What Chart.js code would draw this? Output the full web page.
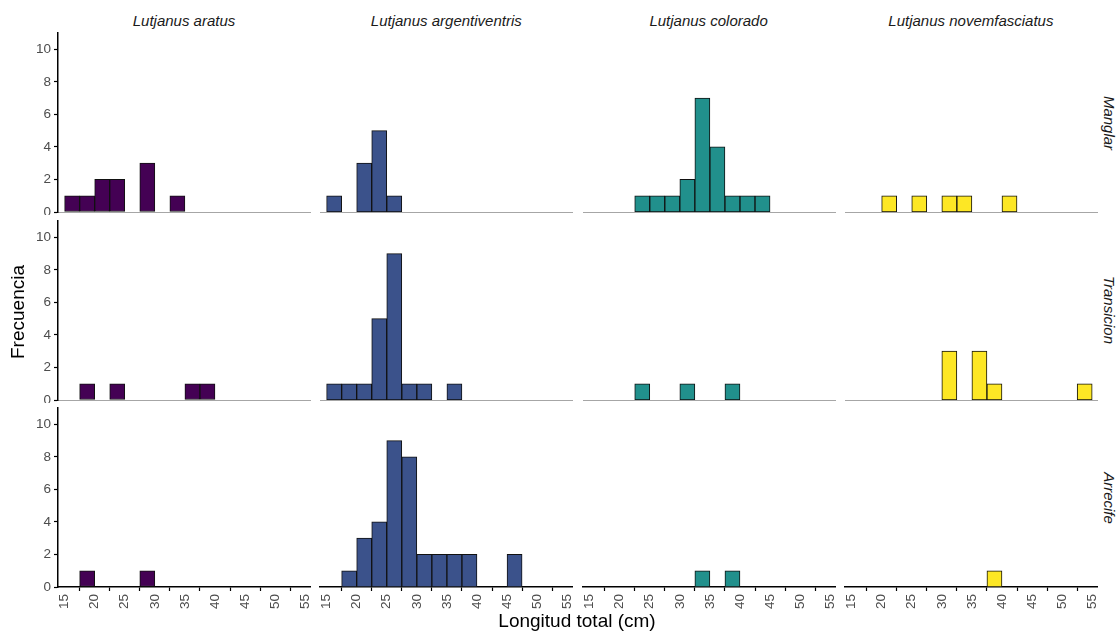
<!DOCTYPE html>
<html>
<head>
<meta charset="utf-8">
<script src="https://cdn.jsdelivr.net/npm/chart.js@4.4.1/dist/chart.umd.min.js"></script>
<style>
  body { margin: 0; background: #fff; }
  #page { position: relative; width: 1118px; height: 632px; overflow: hidden; font-family: "Liberation Sans", Arial, sans-serif; }
  canvas { position: absolute; }
  .lbl { position: absolute; white-space: nowrap; color: #1a1a1a; transform: translate(-50%, -50%); }
  .strip { font-style: italic; font-size: 15px; }
  .title { font-size: 19px; color: #000; }
</style>
</head>
<body>
<div id="page"></div>
<script>
const species = ['Lutjanus aratus', 'Lutjanus argentiventris', 'Lutjanus colorado', 'Lutjanus novemfasciatus'];
const habitats = ['Manglar', 'Transicion', 'Arrecife'];
const speciesColors = ['#440154', '#3B528B', '#21908C', '#FDE725'];

// histogram bins, 2.5 cm wide
const binStarts = [15, 17.5, 20, 22.5, 25, 27.5, 30, 32.5, 35, 37.5, 40, 42.5, 45, 47.5, 50, 52.5];
const binWidth = 2.5;
const xTicks = [15, 20, 25, 30, 35, 40, 45, 50, 55];
const yTicks = [0, 2, 4, 6, 8, 10];

// counts per bin, one row per species
const manglar = [
  [1, 1, 2, 2, 0, 3, 0, 1, 0, 0, 0, 0, 0, 0, 0, 0],
  [1, 0, 3, 5, 1, 0, 0, 0, 0, 0, 0, 0, 0, 0, 0, 0],
  [0, 0, 0, 1, 1, 1, 2, 7, 4, 1, 1, 1, 0, 0, 0, 0],
  [0, 0, 1, 0, 1, 0, 1, 1, 0, 0, 1, 0, 0, 0, 0, 0]
];
const transicion = [
  [0, 1, 0, 1, 0, 0, 0, 0, 1, 1, 0, 0, 0, 0, 0, 0],
  [1, 1, 1, 5, 9, 1, 1, 0, 1, 0, 0, 0, 0, 0, 0, 0],
  [0, 0, 0, 1, 0, 0, 1, 0, 0, 1, 0, 0, 0, 0, 0, 0],
  [0, 0, 0, 0, 0, 0, 3, 0, 3, 1, 0, 0, 0, 0, 0, 1]
];
const arrecife = [
  [0, 1, 0, 0, 0, 1, 0, 0, 0, 0, 0, 0, 0, 0, 0, 0],
  [0, 1, 3, 4, 9, 8, 2, 2, 2, 2, 0, 0, 2, 0, 0, 0],
  [0, 0, 0, 0, 0, 0, 0, 1, 0, 1, 0, 0, 0, 0, 0, 0],
  [0, 0, 0, 0, 0, 0, 0, 0, 0, 1, 0, 0, 0, 0, 0, 0]
];
const counts = [manglar, transicion, arrecife];

const page = document.getElementById('page');

// panel geometry
const panelLeft = 58, panelStepX = 262.3, panelW = 252;
const panelTop = 33, panelStepY = 187.5, panelH = 179;
const yAxisW = 28, xAxisH = 32;
const tickFont = { family: '"Liberation Sans", Arial, sans-serif', size: 13.5 };

function addLabel(text, cls, x, y, rotate) {
  const d = document.createElement('div');
  d.className = 'lbl ' + cls;
  d.textContent = text;
  d.style.left = x + 'px';
  d.style.top = y + 'px';
  if (rotate) d.style.transform = 'translate(-50%, -50%) rotate(' + rotate + 'deg)';
  page.appendChild(d);
}

habitats.forEach((hab, r) => {
  species.forEach((sp, c) => {
    const isLeft = c === 0;
    const isBottom = r === habitats.length - 1;
    const left = Math.round(panelLeft + c * panelStepX) - (isLeft ? yAxisW + 2 : 2);
    const top = Math.round(panelTop + r * panelStepY) - 2;
    const w = panelW + (isLeft ? yAxisW + 2 : 2) + 2;
    const h = panelH + 2 + (isBottom ? xAxisH + 2 : 3);

    const cv = document.createElement('canvas');
    cv.width = w; cv.height = h;
    cv.style.left = left + 'px';
    cv.style.top = top + 'px';
    cv.style.width = w + 'px';
    cv.style.height = h + 'px';
    page.appendChild(cv);

    const values = counts[r][c];
    new Chart(cv, {
      type: 'bar',
      data: {
        datasets: [{
          data: binStarts.map((b, i) => ({ x: b + binWidth / 2, y: values[i] })),
          backgroundColor: ctx => (ctx.raw && ctx.raw.y > 0 ? speciesColors[c] : 'rgba(0,0,0,0)'),
          borderColor: '#111',
          borderWidth: ctx => (ctx.raw && ctx.raw.y > 0 ? 1 : 0),
          borderSkipped: false,
          barPercentage: 1,
          categoryPercentage: 1
        }]
      },
      options: {
        responsive: false,
        animation: false,
        devicePixelRatio: 1,
        layout: { padding: { left: 2, top: 2, right: 2, bottom: isBottom ? 2 : 3 } },
        plugins: { legend: { display: false }, tooltip: { enabled: false } },
        scales: {
          x: {
            type: 'linear',
            min: 13.9,
            max: 55.8,
            offset: false,
            afterBuildTicks: s => { s.ticks = xTicks.map(v => ({ value: v })); },
            afterFit: s => {
              s.height = isBottom ? xAxisH : 0;
              s.paddingLeft = 0; s.paddingRight = 0;
            },
            grid: {
              display: isBottom,
              drawOnChartArea: false,
              drawTicks: true,
              tickLength: 4,
              color: '#000',
              tickWidth: 1.2
            },
            border: { display: true, color: isBottom ? '#000' : '#a6a6a6', width: isBottom ? 1.5 : 1 },
            ticks: {
              display: isBottom,
              autoSkip: false,
              minRotation: 90,
              maxRotation: 90,
              padding: 3,
              color: '#4d4d4d',
              font: tickFont
            }
          },
          y: {
            display: isLeft,
            min: 0,
            max: 11,
            afterBuildTicks: s => { s.ticks = yTicks.map(v => ({ value: v })); },
            afterFit: s => {
              s.width = isLeft ? yAxisW : 0;
              s.paddingTop = 0; s.paddingBottom = 0;
            },
            grid: {
              display: true,
              drawOnChartArea: false,
              drawTicks: true,
              tickLength: 4,
              color: '#000',
              tickWidth: 1.2
            },
            border: { display: true, color: '#000', width: 1.5 },
            ticks: {
              padding: 3,
              color: '#4d4d4d',
              font: tickFont
            }
          }
        }
      }
    });
  });
});

// facet strips
species.forEach((sp, c) => {
  addLabel(sp, 'strip', panelLeft + c * panelStepX + panelW / 2, 20);
});
habitats.forEach((hab, r) => {
  addLabel(hab, 'strip', 1109, panelTop + r * panelStepY + panelH / 2, 90);
});

// axis titles
addLabel('Frecuencia', 'title', 18, 312, -90);
addLabel('Longitud total (cm)', 'title', 577, 621);
</script>
</body>
</html>
